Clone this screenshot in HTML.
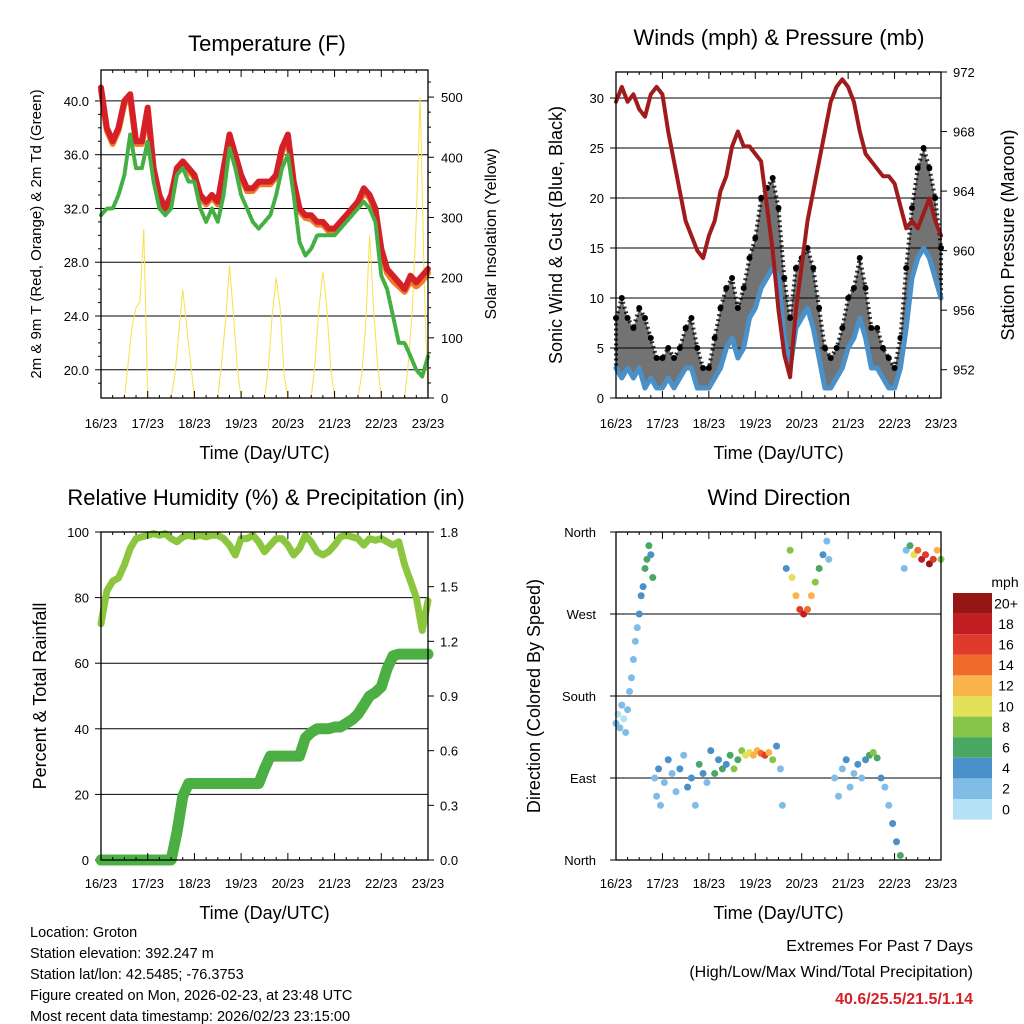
<!DOCTYPE html>
<html><head><meta charset="utf-8"><style>
html,body{margin:0;padding:0;background:#fff}
svg{display:block;font-family:"Liberation Sans",sans-serif}
</style></head><body>
<svg id="c" width="1024" height="1024" viewBox="0 0 1024 1024" xmlns="http://www.w3.org/2000/svg"></svg>
<script>
// ---------- data ----------
const dayLabels = ["16/23","17/23","18/23","19/23","20/23","21/23","22/23","23/23"];
// 3-hourly series (t = 0,3,...,168 h)
const tempRed = [41,38,37,38,40,40.5,37,37,39.5,35,33,32,33,35,35.5,35,34.5,33,32.5,33,32.5,35,37.5,36,34.5,33.5,33.5,34,34,34,34.5,36.5,37.5,34,32,31.5,31.5,31,31,30.5,30.5,31,31.5,32,32.5,33.5,33,32,29,27.5,27,26.5,26,27,26.5,27,27.5];
const tempOrange = [40.8,37.8,36.8,37.8,39.8,40.2,36.8,36.8,39.2,34.8,32.8,31.8,32.8,34.8,35.3,34.8,34.3,32.8,32.3,32.8,32.3,34.8,37.2,35.8,34.3,33.3,33.3,33.8,33.8,33.8,34.3,36.2,37.2,33.8,31.8,31.3,31.2,30.8,30.8,30.3,30.3,30.8,31.3,31.8,32.3,33.2,32.8,31.8,28.8,27.2,26.6,26.2,25.8,26.6,26.2,26.6,27.2];
const dewGreen = [31.5,32,32,33,34.5,37.5,35,35,37,34,32,31.5,32,34.5,35,34,34,32,31,32,31,33,36.5,35,33,32,31,30.5,31,31.5,33,35,36,33,29.5,28.5,29,30,30,30,30,30.5,31,31.5,32,32.5,32,31,27,26,24,22,22,21,20,19.5,21];
// 2-hourly solar (t = 0,2,...,168 h)
const solar = [0,0,0,0,0,0,0,60,120,150,160,280, 0,0,0,0,0,0,0,40,110,180,120,60, 0,0,0,0,0,0,0,60,130,220,140,50, 0,0,0,0,0,0,0,50,140,200,150,40, 0,0,0,0,0,0,0,60,150,210,150,50, 0,0,0,0,0,0,0,40,120,270,150,60, 0,0,0,0,0,0,0,60,150,300,500,200, 0];
const windSpeed = [3,2,3,2,3,1,2,1,1,2,1,2,3,3,1,1,1,2,3,5,6,4,5,8,9,11,12,13,12,6,3,7,8,9,7,4,1,1,2,3,5,6,8,6,3,3,2,1,1,3,7,12,14,15,14,12,10];
const windGust = [8,10,8,7,9,8,6,4,4,5,4,5,7,8,5,3,3,6,9,11,12,9,11,14,16,20,21,22,19,12,8,13,14,15,13,9,5,4,5,7,10,11,14,11,7,7,5,4,3,6,13,19,23,25,23,20,15];
const pressure = [970,971,970,970.5,969.5,969,970.5,971,970.5,968,966,964,962,961,960,959.5,961,962,964,965,967,968,967,967,966.5,966,963,960,956,953,951.5,956,959,962,964,966,968,970,971,971.5,971,970,968,966.5,966,965.5,965,965,964.5,963,961.5,962,961.5,962.5,963.5,962,961];
const rh = [72,82,85,86,90,95,98,98.5,99,99.5,99,99.5,98,97,98.5,99,98.5,99,98.5,99,99,98,96,93,98,98,99,97,94,96,98,98,96,93,95,99,97,94,93,94,96,98.5,99,98.5,98,96,98,97.5,98,97,96,97,90,85,80,70,79];
const precip = [0,0,0,0,0,0,0,0,0,0,0,0,0,0.15,0.35,0.42,0.42,0.42,0.42,0.42,0.42,0.42,0.42,0.42,0.42,0.42,0.42,0.42,0.5,0.57,0.57,0.57,0.57,0.57,0.57,0.67,0.7,0.72,0.72,0.72,0.73,0.73,0.75,0.77,0.8,0.85,0.9,0.92,0.95,1.05,1.12,1.13,1.13,1.13,1.13,1.13,1.13];
// wind direction scatter
const wdHours = [0,1,2,3,4,5,6,7,8,9,10,11,12,13,14,15,16,17,18,19,20,21,22,23,25,27,29,31,33,35,37,39,41,43,45,47,49,51,53,55,57,59,61,63,65,67,69,71,73,75,77,79,81,83,85,86,88,90,91,93,95,97,99,101,103,105,107,109,110,113,115,117,119,121,123,125,127,129,131,133,135,137,139,141,143,145,147,149,150,152,154,156,158,160,162,164,166,168];
const wdDir = [150,160,145,170,155,140,165,185,200,220,240,255,270,290,300,320,330,345,335,310,90,70,100,60,85,110,95,75,100,115,80,90,60,105,95,85,120,95,110,100,105,115,100,110,120,115,118,115,120,117,115,118,110,125,100,60,320,340,310,290,275,270,275,290,305,320,335,350,330,90,70,100,110,80,95,105,90,110,115,118,112,90,80,60,40,20,5,320,340,345,335,340,330,335,325,330,340,330];
const wdSpd = [2,1,3,2,1,2,3,2,2,3,2,3,4,4,5,6,7,6,5,6,3,2,4,2,3,4,3,2,5,3,4,5,2,6,5,3,4,6,4,7,5,6,8,6,9,10,11,12,13,15,16,12,9,5,3,2,5,8,10,12,16,18,14,12,9,6,4,2,2,3,2,3,4,2,3,4,3,5,7,8,6,4,3,2,4,5,6,3,2,6,10,14,18,16,20,17,12,9];
const spdColors = ["#b3e2f7","#7fbde6","#4a90c9","#4aa864","#86c44a","#e5e05a","#f8b34a","#f06a2a","#e03a2a","#c01e22","#961616"];
const spdLabels = ["0","2","4","6","8","10","12","14","16","18","20+"];

// ---------- helpers ----------
const S = document.getElementById('c');
const NS = 'http://www.w3.org/2000/svg';
function mk(tag, attrs, parent){
  const e = document.createElementNS(NS, tag);
  for (const k in attrs) e.setAttribute(k, attrs[k]);
  (parent||S).appendChild(e);
  return e;
}
function txt(x,y,s,size,anchor,rot,name,fill,weight){
  const t = mk('text',{x:x,y:y,'font-size':size,'text-anchor':anchor||'middle',fill:fill||'#000'});
  if (weight) t.setAttribute('font-weight',weight);
  if (rot) t.setAttribute('transform','rotate('+rot+' '+x+' '+y+')');
  t.textContent = s;
  
  
  return t;
}
function lin(d0,d1,r0,r1){ return v => r0 + (v-d0)/(d1-d0)*(r1-r0); }
function polyline(xs, ys, stroke, width, name, dash){
  const pts = xs.map((x,i)=>x.toFixed(1)+','+ys[i].toFixed(1)).join(' ');
  const p = mk('polyline',{points:pts,fill:'none',stroke:stroke,'stroke-width':width,'stroke-linejoin':'round','stroke-linecap':'round'});
  if (dash) p.setAttribute('stroke-dasharray', dash);
  
  
  return p;
}
function frame(x0,y0,x1,y1,name){
  const r = mk('rect',{x:x0,y:y0,width:x1-x0,height:y1-y0,fill:'none',stroke:'#000','stroke-width':1.3});
  
  
}
function hgrid(x0,x1,y,name){
  const l = mk('line',{x1:x0,x2:x1,y1:y,y2:y,stroke:'#000','stroke-width':1});
  
  
}
function tick(x1,y1,x2,y2){ mk('line',{x1:x1,y1:y1,x2:x2,y2:y2,stroke:'#000','stroke-width':1}); }
function xAxis(x0,x1,y0,y1,labY,titleY,prefix){
  const xs = lin(0,168,x0,x1);
  dayLabels.forEach((d,i)=>{
    const x = xs(i*24);
    tick(x,y1,x,y1-7); tick(x,y0,x,y0+7);
    txt(x,labY,d,13,'middle',0,prefix+'-x-tick-'+i);
  });
  for (let h=6; h<168; h+=6){ if (h%24) { const x=xs(h); tick(x,y1,x,y1-3); tick(x,y0,x,y0+3);} }
  txt((x0+x1)/2,titleY,'Time (Day/UTC)',18,'middle',0,prefix+'-x-axis-title');
}
const t3 = tempRed.map((_,i)=>i*3);

// ---------- Panel 1: temperature ----------
(function(){
  const X0=101,X1=428,Y0=70,Y1=398;
  const xs=lin(0,168,X0,X1), yL=lin(17.9,42.3,Y1,Y0), yR=lin(0,545,Y1,Y0);
  txt(267,51,'Temperature (F)',22,'middle',0,'temperature-title');
  [20,24,28,32,36,40].forEach(v=>{ hgrid(X0,X1,yL(v),'temp-gridline'); tick(X0,yL(v),X0-6,yL(v)); txt(X0-12,yL(v)+5,v.toFixed(1),13,'end',0,'temp-y-tick'); });
  for(let v=19;v<42;v++){ if(v%4) tick(X0,yL(v),X0-3,yL(v)); }
  [0,100,200,300,400,500].forEach(v=>{ tick(X1,yR(v),X1+6,yR(v)); txt(X1+13,yR(v)+5,String(v),13,'start',0,'solar-y-tick'); });
  for(let v=25;v<545;v+=25){ if(v%100) tick(X1,yR(v),X1+3,yR(v)); }
  const s2 = solar.map((_,i)=>i*2);
  polyline(s2.map(xs), solar.map(yR), '#f9e04a', 1, 'solar-insolation-line');
  polyline(t3.map(xs), tempOrange.map(yL), '#f07a28', 6, 'temp-9m-line');
  polyline(t3.map(xs), tempRed.map(yL), '#d62027', 6, 'temp-2m-line');
  polyline(t3.map(xs), dewGreen.map(yL), '#44b044', 4, 'dewpoint-2m-line', '3,2');
  frame(X0,Y0,X1,Y1,'temperature-plot-area');
  xAxis(X0,X1,Y0,Y1,428,459,'temp');
  txt(41,234,'2m & 9m T (Red, Orange) & 2m Td (Green)',15,'middle',-90,'temp-y-axis-title');
  txt(496,234,'Solar Insolation (Yellow)',16,'middle',-90,'solar-y-axis-title');
})();

// ---------- Panel 2: winds & pressure ----------
(function(){
  const X0=616,X1=941,Y0=72,Y1=398;
  const xs=lin(0,168,X0,X1), yL=lin(0,32.6,Y1,Y0), yR=lin(950.1,972,Y1,Y0);
  txt(779,45,'Winds (mph) & Pressure (mb)',22,'middle',0,'winds-title');
  [0,5,10,15,20,25,30].forEach(v=>{ if(v>0) hgrid(X0,X1,yL(v),'wind-gridline'); tick(X0,yL(v),X0-6,yL(v)); txt(X0-12,yL(v)+5,String(v),13,'end',0,'wind-y-tick'); });
  [952,956,960,964,968,972].forEach(v=>{ tick(X1,yR(v),X1+6,yR(v)); txt(X1+12,yR(v)+5,String(v),13,'start',0,'pressure-y-tick'); });
  const xsT = t3.map(xs);
  const band = xsT.map((x,i)=>x.toFixed(1)+','+yL(windGust[i]).toFixed(1)).concat(xsT.slice().reverse().map((x,j)=>{const i=xsT.length-1-j;return x.toFixed(1)+','+yL(windSpeed[i]).toFixed(1);})).join(' ');
  const g = mk('polygon',{points:band,fill:'#000','fill-opacity':0.55,stroke:'#000','stroke-width':4,'stroke-opacity':0.8,'stroke-dasharray':'2,3','stroke-linejoin':'round'});
  
  
  windGust.forEach((v,i)=>{
    const c = mk('circle',{cx:xs(t3[i]),cy:yL(v),r:3,fill:'#000'});
    
    
  });
  polyline(xsT, windSpeed.map(yL), '#4a90c9', 5, 'wind-speed-line');
  polyline(xsT, pressure.map(yR), '#a01c1c', 4, 'pressure-line');
  frame(X0,Y0,X1,Y1,'winds-plot-area');
  xAxis(X0,X1,Y0,Y1,428,459,'winds');
  txt(562,235,'Sonic Wind & Gust (Blue, Black)',18,'middle',-90,'wind-y-axis-title');
  txt(1014,235,'Station Pressure (Maroon)',18,'middle',-90,'pressure-y-axis-title');
})();

// ---------- Panel 3: RH & precip ----------
(function(){
  const X0=101,X1=428,Y0=532,Y1=860;
  const xs=lin(0,168,X0,X1), yL=lin(0,100,Y1,Y0), yR=lin(0,1.8,Y1,Y0);
  txt(266,505,'Relative Humidity (%) & Precipitation (in)',22,'middle',0,'rh-precip-title');
  [0,20,40,60,80,100].forEach(v=>{ if(v>0&&v<100) hgrid(X0,X1,yL(v),'rh-gridline'); tick(X0,yL(v),X0-6,yL(v)); txt(X0-12,yL(v)+5,String(v),13,'end',0,'rh-y-tick'); });
  [0,0.3,0.6,0.9,1.2,1.5,1.8].forEach(v=>{ tick(X1,yR(v),X1+6,yR(v)); txt(X1+12,yR(v)+5,v.toFixed(1),13,'start',0,'precip-y-tick'); });
  polyline(t3.map(xs), rh.map(yL), '#8cc63f', 7, 'rh-line');
  polyline(t3.map(xs), precip.map(yR), '#4caf43', 11, 'precip-line');
  frame(X0,Y0,X1,Y1,'rh-plot-area');
  xAxis(X0,X1,Y0,Y1,888,919,'rh');
  txt(46,696,'Percent & Total Rainfall',18,'middle',-90,'rh-y-axis-title');
})();

// ---------- Panel 4: wind direction ----------
(function(){
  const X0=616,X1=941,Y0=532,Y1=860;
  const xs=lin(0,168,X0,X1), yD=lin(0,360,Y1,Y0);
  txt(779,505,'Wind Direction',22,'middle',0,'wind-direction-title');
  const dl=['North','East','South','West','North'];
  [0,90,180,270,360].forEach((v,i)=>{ if(i>0&&i<4) hgrid(X0,X1,yD(v),'direction-gridline'); tick(X0,yD(v),X0-6,yD(v)); txt(X0-20,yD(v)+5,dl[i],13,'end',0,'direction-y-tick'); });
  wdHours.forEach((h,i)=>{
    const ci = Math.min(10, Math.floor(wdSpd[i]/2));
    const c = mk('circle',{cx:xs(h),cy:yD(wdDir[i]),r:3.5,fill:spdColors[ci]});
    
    
  });
  frame(X0,Y0,X1,Y1,'direction-plot-area');
  xAxis(X0,X1,Y0,Y1,888,919,'direction');
  txt(540,696,'Direction (Colored By Speed)',18,'middle',-90,'direction-y-axis-title');
  txt(1005,587,'mph',14,'middle',0,'colorbar-title');
  const bh=20.6, top=593;
  for(let k=0;k<11;k++){
    const idx=10-k, y=top+k*bh;
    const r = mk('rect',{x:953,y:y,width:39,height:bh,fill:spdColors[idx]});
    
    
    txt(1006,y+bh/2+5,spdLabels[idx],14,'middle',0,'colorbar-label');
  }
})();

// ---------- footer ----------
['Location: Groton','Station elevation: 392.247 m','Station lat/lon: 42.5485; -76.3753','Figure created on Mon, 2026-02-23, at 23:48 UTC','Most recent data timestamp: 2026/02/23 23:15:00'].forEach((s,i)=>{
  txt(30,937+i*21,s,14.5,'start',0,'station-info-line');
});
txt(973,951,'Extremes For Past 7 Days',16,'end',0,'extremes-title');
txt(973,977,'(High/Low/Max Wind/Total Precipitation)',16,'end',0,'extremes-subtitle');
txt(973,1004,'40.6/25.5/21.5/1.14',16,'end',0,'extremes-values','#d62027','bold');
</script>
</body></html>
